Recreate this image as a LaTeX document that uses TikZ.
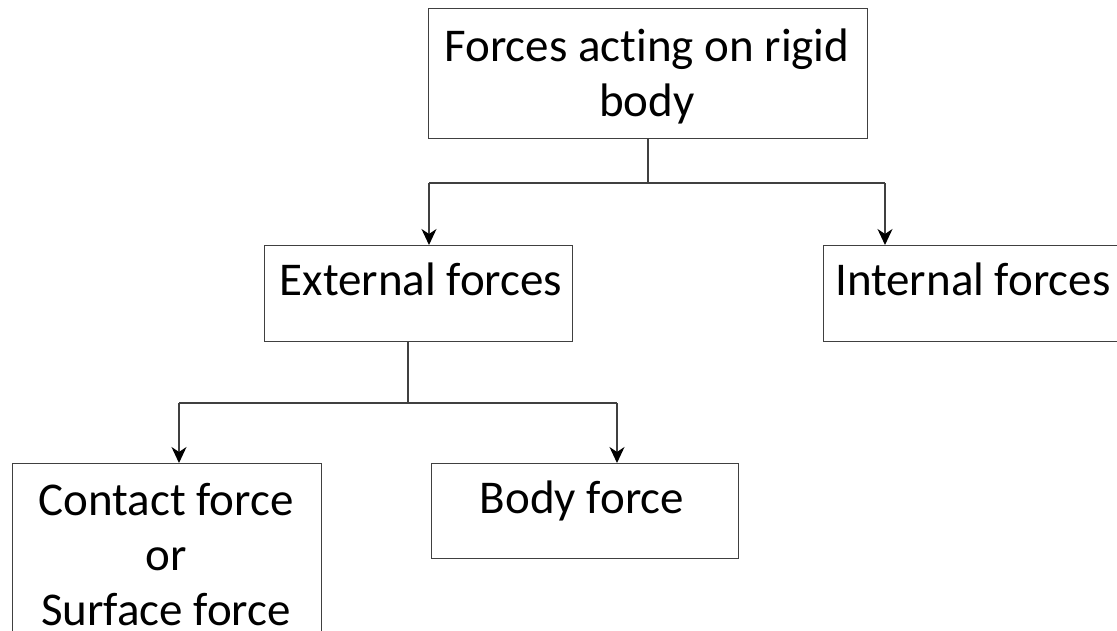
\documentclass[tikz,border=0pt]{standalone}
\usepackage{fontspec}
\setmainfont{Carlito}[Ligatures={NoCommon}]
\usetikzlibrary{arrows.meta,calc}
\begin{document}
\begin{tikzpicture}[x=1pt,y=-1pt,
 box/.style={draw=black!75, line width=1.4pt, inner sep=0pt, anchor=north west},
 txt/.style={font=\fontsize{47}{55}\selectfont, align=center, inner sep=0pt, anchor=base},
 conn/.style={draw=black!75, line width=1.4pt},
 arr/.style={conn, -{Stealth[length=16pt,width=15pt,inset=5pt,color=black]}}]
\useasboundingbox (0,0) rectangle (1117,630);
\clip (0,0) rectangle (1117,630);
% boxes
\node[box, minimum width=439pt, minimum height=130pt] (top) at (428,8) {};
\node[box, minimum width=308pt, minimum height=96pt] (ext) at (264,245) {};
\node[box, minimum width=320pt, minimum height=96pt] (int) at (823,245) {};
\node[box, minimum width=309pt, minimum height=190pt] (con) at (12,463) {};
\node[box, minimum width=307pt, minimum height=95pt] (bod) at (431,463) {};
% texts (base anchor = baseline of the last line)
\node[txt] (ttop) at (647,116) {Forces acting on rigid\\body};
\node[txt] (text) at (421,295) {External forces};
\node[txt, anchor=base west] (tint) at (835,295) {Internal forces};
\node[txt] (tbod) at (582,513) {Body force};
\node[txt] (tcon) at (166,625) {Contact force\\or\\Surface force};
% connectors
\coordinate (j1) at (648,183);
\coordinate (l1) at (429,183);
\coordinate (r1) at (885,183);
\draw[conn] (j1 |- top.south) -- (j1);
\draw[conn] (l1) -- (r1);
\draw[arr] (l1) -- (l1 |- ext.north);
\draw[arr] (r1) -- (r1 |- int.north);
\coordinate (j2) at (408,403);
\coordinate (l2) at (179,403);
\coordinate (r2) at (617,403);
\draw[conn] (j2 |- ext.south) -- (j2);
\draw[conn] (l2) -- (r2);
\draw[arr] (l2) -- (l2 |- con.north);
\draw[arr] (r2) -- (r2 |- bod.north);
\end{tikzpicture}
\end{document}
